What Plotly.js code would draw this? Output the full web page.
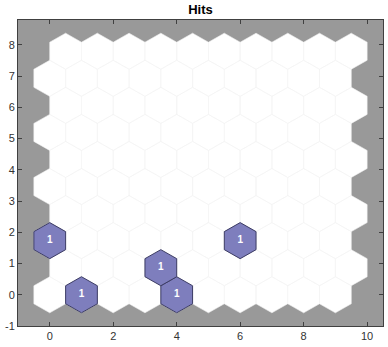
<!DOCTYPE html>
<html><head><meta charset="utf-8">
<script src="https://cdn.plot.ly/plotly-3.0.1.min.js"></script>
<style>body{margin:0;background:#fff}#c{width:388px;height:347px}</style>
</head><body><div id="c"></div>
<script>
// SOM grid dimensions (hexagonal topology)
const gridCols = 10;
const gridRows = 10;
// Neurons with hits
const hitRow = [0, 0, 1, 2, 2];
const hitCol = [1, 4, 3, 0, 6];
const hitCount = [1, 1, 1, 1, 1];
const xTicks = [0, 2, 4, 6, 8, 10];
const yTicks = [-1, 0, 1, 2, 3, 4, 5, 6, 7, 8];

const R = 1 / Math.sqrt(3);
function center(r, c) { return [c + (r % 2 ? 0.5 : 0), r * Math.sqrt(3) / 2]; }
function hexPath(cx, cy, s, xs, ys) {
  for (let k = 0; k <= 6; k++) {
    const a = Math.PI / 6 + k * Math.PI / 3;
    xs.push(cx + s * R * Math.cos(a)); ys.push(cy + s * R * Math.sin(a));
  }
  xs.push(null); ys.push(null);
}
const traces = [];
// neurons
let nx = [], ny = [];
for (let r = 0; r < gridRows; r++) for (let c = 0; c < gridCols; c++) {
  const [cx, cy] = center(r, c); hexPath(cx, cy, 1, nx, ny);
}
traces.push({x: nx, y: ny, type: 'scatter', mode: 'lines', fill: 'toself', fillcolor: '#ffffff',
  line: {color: '#f4f4f4', width: 0.6}, hoverinfo: 'skip', showlegend: false});
// hits
const maxHit = Math.max(...hitCount);
const tx = [], ty = [], tt = [];
for (let i = 0; i < hitRow.length; i++) {
  const [cx, cy] = center(hitRow[i], hitCol[i]);
  const hx = [], hy = [];
  hexPath(cx, cy, Math.sqrt(hitCount[i] / maxHit), hx, hy);
  traces.push({x: hx, y: hy, type: 'scatter', mode: 'lines', fill: 'toself', fillcolor: '#7e7ebd',
    line: {color: '#3c3c64', width: 1}, hoverinfo: 'skip', showlegend: false});
  tx.push(cx); ty.push(cy); tt.push(String(hitCount[i]));
}
traces.push({x: tx, y: ty, text: tt, type: 'scatter', mode: 'text',
  textfont: {color: '#ffffff', size: 10, family: 'Liberation Sans, Arial', weight: 'bold'},
  hoverinfo: 'skip', showlegend: false});

const axCommon = {showgrid: false, zeroline: false, showline: true, linecolor: '#404040', linewidth: 1,
  mirror: 'ticks', ticks: 'inside', ticklen: 4, tickcolor: '#404040', tickwidth: 1,
  tickfont: {family: 'Liberation Sans, Arial', size: 11, color: '#333333'}, tickmode: 'array'};
const layout = {
  width: 388, height: 347,
  margin: {l: 18, r: 5, t: 20, b: 21},
  paper_bgcolor: '#ffffff', plot_bgcolor: '#999999',
  title: {text: '<b>Hits</b>', font: {family: 'Liberation Sans, Arial', size: 13, color: '#000'},
    x: 0.5, xref: 'paper', y: 1 - 9 / 347, yref: 'container', yanchor: 'middle'},
  xaxis: Object.assign({}, axCommon, {range: [-1, 10.5], tickvals: xTicks, ticktext: xTicks.map(String)}),
  yaxis: Object.assign({}, axCommon, {range: [-1, (gridRows - 1) * Math.sqrt(3) / 2 + 1], tickvals: yTicks, ticktext: yTicks.map(String)}),
  showlegend: false
};
Plotly.newPlot('c', traces, layout, {displayModeBar: false, staticPlot: true});
</script></body></html>
